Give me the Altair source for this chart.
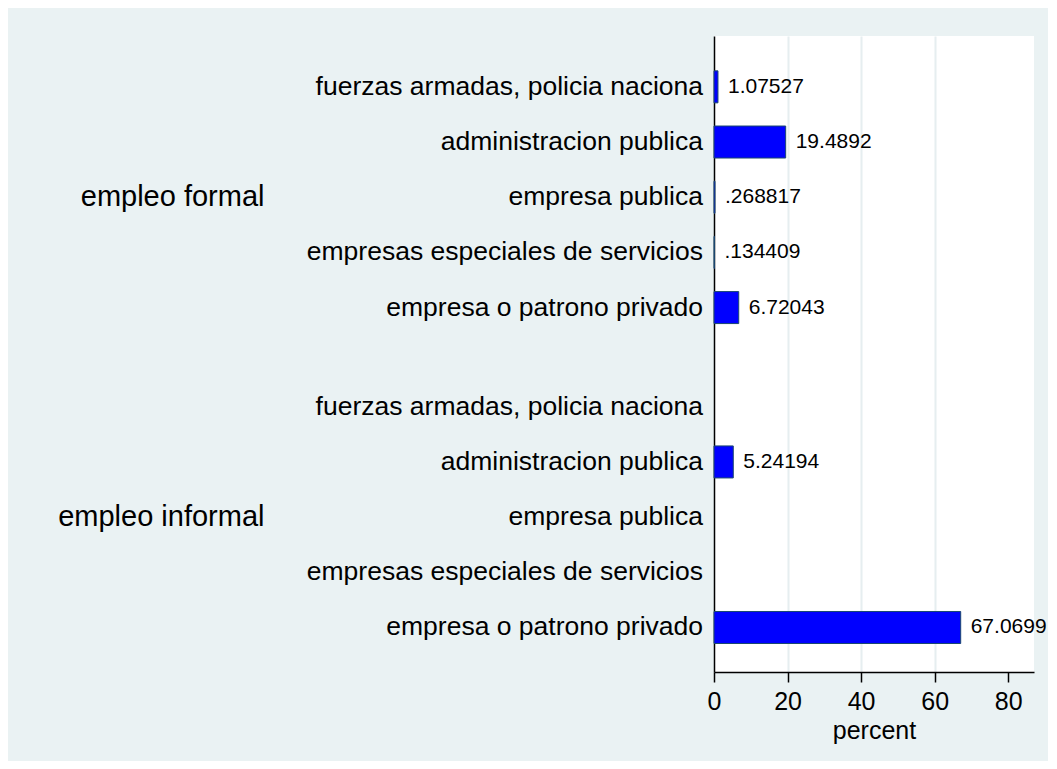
import altair as alt
import pandas as pd

group_order = ["empleo formal", "empleo informal"]
category_order = [
    "fuerzas armadas, policia naciona",
    "administracion publica",
    "empresa publica",
    "empresas especiales de servicios",
    "empresa o patrono privado",
]
groups = ["empleo formal"] * 5 + ["empleo informal"] * 5
categories = category_order * 2
values = [1.07527, 19.4892, 0.268817, 0.134409, 6.72043,
          None, 5.24194, None, None, 67.0699]
value_labels = ["1.07527", "19.4892", ".268817", ".134409", "6.72043",
                "", "5.24194", "", "", "67.0699"]

df = pd.DataFrame({
    "group": groups,
    "category": categories,
    "value": values,
    "label": value_labels,
})

FONT = "Liberation Sans"

yscale = alt.Scale(domain=group_order, paddingInner=0.21, paddingOuter=0.099, align=0.55)
yoff_scale = alt.Scale(domain=category_order, paddingInner=0.42, paddingOuter=0)
xscale = alt.Scale(domain=[0, 87], nice=False, zero=True)

y_enc = alt.Y(
    "group:N",
    scale=yscale,
    sort=None,
    axis=alt.Axis(
        title=None,
        ticks=False,
        labelFontSize=29,
        labelColor="#000000",
        labelPadding=450,
        labelFont=FONT,
        domainColor="#000000",
        domainWidth=1.5,
        grid=False,
        labelLimit=1000,
    ),
)
yoff_enc = alt.YOffset("category:N", scale=yoff_scale, sort=None)

x_enc = alt.X(
    "value:Q",
    scale=xscale,
    axis=alt.Axis(
        title="percent",
        values=[0, 20, 40, 60, 80],
        titleFontSize=25,
        titleFont=FONT,
        titleFontWeight="normal",
        titleColor="#000000",
        titlePadding=4,
        labelFontSize=25,
        labelFont=FONT,
        labelColor="#000000",
        labelPadding=7,
        labelFlush=False,
        tickColor="#000000",
        tickSize=10,
        tickWidth=1.5,
        domainColor="#000000",
        domainWidth=1.5,
        grid=True,
        gridColor="#E6EEF0",
        gridWidth=2,
        gridOpacity={"condition": {"test": "datum.value == 0 || datum.value == 80", "value": 0}, "value": 1},
    ),
)

base = alt.Chart(df)

bars = base.transform_filter("isValid(datum.value)").mark_bar(
    color="#0000FF", stroke="#1A476F", strokeWidth=1
).encode(x=x_enc, y=y_enc, yOffset=yoff_enc)

texts = base.transform_filter("isValid(datum.value)").mark_text(
    align="left", baseline="middle", dx=10, fontSize=21, font=FONT, color="#000000"
).encode(
    x=alt.X("value:Q", scale=xscale),
    y=alt.Y("group:N", scale=yscale, sort=None),
    yOffset=yoff_enc,
    text="label:N",
)

cat_text = base.mark_text(
    align="right", baseline="middle", dx=-11, fontSize=26.5, font=FONT, color="#000000"
).encode(
    x=alt.value(0),
    y=alt.Y("group:N", scale=yscale, sort=None),
    yOffset=yoff_enc,
    text="category:N",
)

chart = alt.layer(bars, texts, cat_text).properties(
    width=320,
    height=636,
    autosize=alt.AutoSizeParams(type="none"),
    padding={"left": 706, "top": 28, "right": 14, "bottom": 89},
    background="#EAF2F3",
).configure_view(fill="#FFFFFF", stroke=None)

chart.save("out.html", embed_options={"renderer": "svg", "actions": False})
